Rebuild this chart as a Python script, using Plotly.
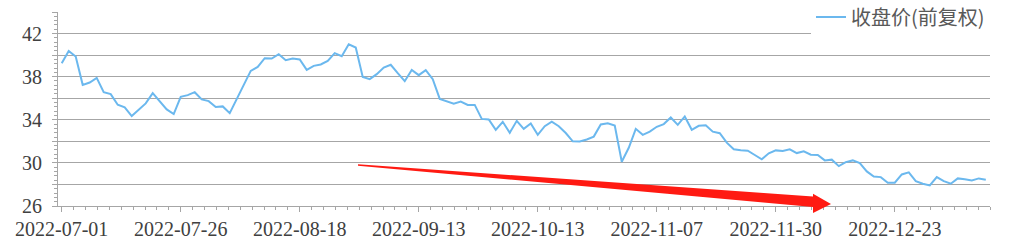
import pandas as pd
import plotly.graph_objects as go

# ---- data ----
holidays = ["2022-09-12", "2022-10-03", "2022-10-04", "2022-10-05",
            "2022-10-06", "2022-10-07", "2023-01-02"]
dates = [d.strftime("%Y-%m-%d") for d in
         pd.bdate_range("2022-07-01", periods=133, freq="C", holidays=holidays)]

close_price = [
    39.25, 40.39, 39.87, 37.24, 37.46, 37.89, 36.56, 36.38, 35.39, 35.15,
    34.34, 34.90, 35.52, 36.47, 35.70, 34.96, 34.53, 36.13, 36.29, 36.56,
    35.89, 35.73, 35.18, 35.24, 34.62, 35.92, 37.21, 38.54, 38.91, 39.71,
    39.68, 40.08, 39.53, 39.68, 39.60, 38.63, 39.00, 39.13, 39.46, 40.18,
    39.90, 41.00, 40.70, 37.98, 37.77, 38.23, 38.85, 39.10, 38.32, 37.58,
    38.63, 38.14, 38.60, 37.77, 35.94, 35.69, 35.50, 35.69, 35.38, 35.38,
    34.08, 34.02, 33.06, 33.81, 32.79, 33.90, 33.16, 33.65, 32.60, 33.40,
    33.83, 33.40, 32.77, 32.00, 31.98, 32.17, 32.44, 33.57, 33.68, 33.46,
    30.10, 31.40, 33.16, 32.60, 32.90, 33.35, 33.60, 34.21, 33.53, 34.31,
    33.07, 33.44, 33.50, 32.90, 32.75, 31.88, 31.26, 31.17, 31.13, 30.73,
    30.33, 30.89, 31.16, 31.10, 31.26, 30.91, 31.07, 30.76, 30.73, 30.23,
    30.30, 29.70, 30.07, 30.23, 29.98, 29.21, 28.74, 28.68, 28.16, 28.16,
    28.93, 29.12, 28.31, 28.07, 27.91, 28.68, 28.31, 28.07, 28.56, 28.49,
    28.37, 28.56, 28.44,
]

x_tick_labels = ["2022-07-01", "2022-07-26", "2022-08-18", "2022-09-13",
                 "2022-10-13", "2022-11-07", "2022-11-30", "2022-12-23"]
y_tick_values = [26, 28, 30, 32, 34, 36, 38, 40, 42, 44]
y_tick_labels = ["26", "", "30", "", "34", "", "38", "", "42", ""]
series_name = "收盘价(前复权)"

# ---- figure ----
W, H = 1010, 246
ML, MR, MT, MB = 58, 20, 12, 40
x_idx = list(range(len(dates)))
x_tick_pos = [dates.index(d) for d in x_tick_labels]

GRID = "#a6a6a6"
TXT = "#404040"

fig = go.Figure()
fig.add_trace(go.Scatter(
    x=x_idx, y=close_price, mode="lines", name=series_name,
    line=dict(color="#6bb8ee", width=2),
    customdata=dates, hovertemplate="%{customdata}: %{y}<extra></extra>",
))

def px_to_paper(px, py):
    return (px - ML) / (W - ML - MR), (H - MB - py) / (H - MT - MB)

# red trend arrow (decoration)
arrow_px = [(358, 164.2), (813, 196.5), (813, 193.8), (831, 204.0),
            (813, 213.0), (813, 207.0), (358, 165.8)]
pts = [px_to_paper(a, b) for a, b in arrow_px]
path = "M " + " L ".join(f"{a:.5f},{b:.5f}" for a, b in pts) + " Z"
fig.add_shape(type="path", path=path, xref="paper", yref="paper",
              fillcolor="#ff1a12", line=dict(width=0), layer="above")

fig.update_layout(
    width=W, height=H,
    margin=dict(l=ML, r=MR, t=MT, b=MB, autoexpand=False),
    paper_bgcolor="white", plot_bgcolor="white",
    showlegend=True,
    legend=dict(x=1.0, xanchor="right", y=px_to_paper(0, 17)[1], yanchor="middle",
                bgcolor="white", borderwidth=0,
                font=dict(family="Noto Sans CJK SC", size=20, color="#595959"),
                itemwidth=30, tracegroupgap=0),
    xaxis=dict(
        range=[-0.53, 132.6], automargin=False,
        tickmode="array", tickvals=x_tick_pos, ticktext=x_tick_labels,
        showgrid=False, zeroline=False,
        showline=True, linecolor=GRID, linewidth=1,
        ticks="outside", ticklen=5, tickcolor=GRID, tickwidth=1,
        tickfont=dict(family="Liberation Serif", size=20, color=TXT),
        minor=dict(tickmode="linear", tick0=0, dtick=1.7, ticks="outside",
                   ticklen=3, tickcolor=GRID, showgrid=False),
    ),
    yaxis=dict(
        range=[26, 44], automargin=False,
        tickmode="array", tickvals=y_tick_values, ticktext=y_tick_labels,
        showgrid=True, gridcolor=GRID, gridwidth=1, zeroline=False,
        showline=True, linecolor=GRID, linewidth=1,
        ticks="outside", ticklen=5, tickcolor=GRID, tickwidth=1,
        ticklabelstandoff=6,
        tickfont=dict(family="Liberation Serif", size=20, color=TXT),
        minor=dict(tickmode="linear", tick0=26, dtick=0.4, ticks="outside",
                   ticklen=3, tickcolor=GRID, showgrid=False),
    ),
)

fig.write_html("out.html")
